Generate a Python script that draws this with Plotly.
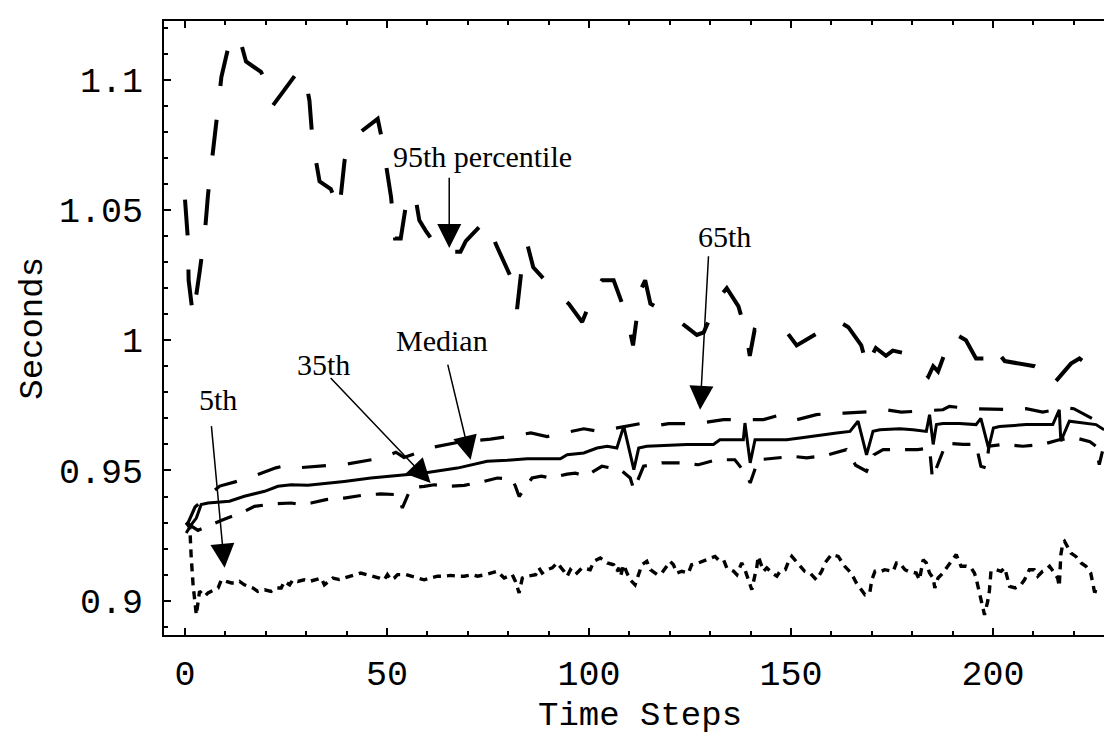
import plotly.graph_objects as go

# ---------------- data ----------------
p95_t = [0.0, 0.7, 0.9, 2.0, 3.6, 4.9, 5.7, 6.9, 8.0, 9.0, 11.4, 13.5, 15.1, 18.8, 20.4, 21.7,
         27.9, 29.5, 30.8, 31.6, 33.3, 36.1, 38.2, 39.5, 40.7, 43.5, 47.7, 48.9, 51.0, 52.0,
         53.4, 54.7, 56.8, 58.0, 59.6, 63.7, 65.8, 68.2, 69.5, 73.2, 74.9, 76.9, 81.0, 82.2,
         83.5, 84.7, 86.2, 92.1, 95.0, 98.3, 101.2, 103.2, 106.1, 109.4, 110.9, 112.7, 113.9,
         115.2, 120.9, 124.2, 126.7, 128.4, 132.0, 134.1, 137.0, 139.0, 139.8, 141.0, 146.5,
         149.0, 151.4, 158.0, 160.9, 164.2, 167.4, 169.0, 170.0, 171.0, 173.5, 175.2, 178.1,
         184.0, 185.2, 186.4, 190.0, 193.3, 195.8, 199.1, 199.9, 202.9, 210.3, 212.8, 214.8,
         215.4, 219.3, 221.4, 223.9, 225.1]
p95_v = [1.054, 1.039, 1.023, 1.009, 1.026, 1.041, 1.056, 1.071, 1.087, 1.101, 1.117, 1.116,
         1.107, 1.103, 1.098, 1.090, 1.103, 1.103, 1.092, 1.076, 1.061, 1.058, 1.050, 1.069,
         1.076, 1.080, 1.085, 1.076, 1.055, 1.039, 1.039, 1.052, 1.057, 1.046, 1.042, 1.033,
         1.034, 1.034, 1.038, 1.044, 1.046, 1.037, 1.023, 1.012, 1.030, 1.037, 1.028, 1.018,
         1.014, 1.007, 1.018, 1.023, 1.023, 1.009, 0.998, 1.019, 1.023, 1.014, 1.009, 1.005,
         1.002, 1.003, 1.016, 1.020, 1.013, 1.002, 0.994, 1.004, 1.002, 1.003, 0.998, 1.004,
         1.008, 1.005, 0.998, 0.989, 0.994, 0.997, 0.994, 0.996, 0.995, 0.986, 0.990, 0.988,
         1.003, 1.000, 0.993, 0.993, 0.998, 0.992, 0.990, 0.988, 0.989, 0.984, 0.991, 0.993,
         0.990, 0.991]

p65_t = [0.5, 2.5, 8.6, 15.6, 22.5, 25.2, 27.9, 34.9, 40.3, 49.3, 52.2, 54.2, 61.6, 68.2, 75.6,
         82.7, 85.6, 89.6, 95.4, 98.7, 102.4, 112.7, 116.0, 119.7, 126.7, 130.0, 133.3, 143.2,
         146.5, 150.2, 156.3, 159.6, 163.2, 170.7, 173.6, 177.3, 187.6, 189.2, 194.4, 205.7,
         208.2, 212.3, 216.0, 218.0, 220.0, 224.5, 227.5]
p65_v = [0.929, 0.936, 0.944, 0.947, 0.951, 0.952, 0.951, 0.952, 0.9525, 0.955, 0.957, 0.955,
         0.959, 0.961, 0.962, 0.9637, 0.9644, 0.963, 0.965, 0.966, 0.965, 0.968, 0.967, 0.968,
         0.968, 0.9688, 0.9695, 0.9695, 0.971, 0.969, 0.9714, 0.972, 0.972, 0.9727, 0.9733,
         0.9724, 0.9733, 0.9746, 0.9737, 0.9733, 0.9737, 0.9724, 0.9733, 0.974, 0.9737, 0.970,
         0.9665]

med_t = [0.3, 1.56, 2.8, 4.0, 5.7, 9.0, 11.0, 14.7, 19.7, 23.0, 26.3, 30.4, 36.1, 39.4, 46.0,
         52.6, 59.2, 67.4, 71.5, 74.8, 79.8, 84.7, 92.9, 94.6, 98.7, 102.0, 104.5, 106.9, 108.6,
         111.1, 112.3, 114.3, 124.2, 130.8, 132.4, 138.2, 138.6, 139.9, 141.1, 148.9, 152.2,
         157.2, 161.3, 164.6, 166.6, 168.7, 170.3, 172.0, 176.9, 180.2, 183.5, 184.3, 185.2,
         186.0, 187.6, 191.7, 195.8, 197.0, 198.9, 200.1, 201.6, 208.2, 214.8, 216.4, 216.8,
         218.9, 223.0, 225.5, 227.5]
med_v = [0.926, 0.9292, 0.9317, 0.9369, 0.9375, 0.9379, 0.9382, 0.9401, 0.942, 0.9439, 0.9445,
         0.9443, 0.9452, 0.9458, 0.9471, 0.948, 0.949, 0.9509, 0.9525, 0.9535, 0.9539, 0.9545,
         0.9545, 0.956, 0.9567, 0.9586, 0.9593, 0.9586, 0.967, 0.9503, 0.9586, 0.9593, 0.960,
         0.960, 0.9618, 0.9618, 0.9682, 0.9529, 0.9618, 0.9618, 0.9625, 0.9637, 0.9644, 0.965,
         0.9689, 0.956, 0.965, 0.9656, 0.966, 0.9656, 0.965, 0.9714, 0.960, 0.9676, 0.968,
         0.968, 0.9676, 0.970, 0.9586, 0.9663, 0.9669, 0.9676, 0.9676, 0.9733, 0.9612, 0.9689,
         0.9682, 0.9676, 0.9656]

p35_t = [0.3, 3.2, 9.4, 13.9, 17.2, 21.3, 26.3, 28.7, 31.2, 34.9, 39.4, 44.0, 48.5, 52.6, 53.8,
         55.9, 59.2, 61.7, 65.0, 69.1, 74.0, 77.3, 81.0, 81.8, 82.7, 85.9, 88.2, 90.5, 94.6,
         96.6, 99.1, 103.2, 105.3, 107.8, 110.2, 111.1, 113.5, 118.0, 122.5, 127.1, 131.6,
         136.1, 139.0, 139.9, 141.9, 146.9, 150.6, 153.9, 159.2, 163.7, 166.0, 168.7, 170.5,
         172.8, 177.3, 181.4, 184.3, 185.0, 188.4, 192.6, 195.8, 197.0, 198.3, 199.0, 202.4,
         207.4, 212.3, 216.4, 220.5, 224.0, 225.5, 226.3, 227.5]
p35_v = [0.930, 0.927, 0.9311, 0.9337, 0.9362, 0.9371, 0.9375, 0.9369, 0.9375, 0.9388, 0.9394,
         0.9405, 0.941, 0.9407, 0.9356, 0.9433, 0.9439, 0.9445, 0.9439, 0.9443, 0.9458, 0.9471,
         0.9466, 0.9439, 0.940, 0.9471, 0.9478, 0.9471, 0.9486, 0.949, 0.9478, 0.9516, 0.951,
         0.9503, 0.9471, 0.9426, 0.9516, 0.9529, 0.9529, 0.9522, 0.9541, 0.9541, 0.9484, 0.9452,
         0.9541, 0.9548, 0.9554, 0.9548, 0.956, 0.958, 0.952, 0.9497, 0.956, 0.958, 0.958,
         0.958, 0.9586, 0.947, 0.9605, 0.960, 0.960, 0.9516, 0.951, 0.9593, 0.960, 0.9593,
         0.960, 0.9618, 0.9625, 0.961, 0.9593, 0.9522, 0.960]

p05_t = [0.3, 1.2, 1.5, 2.0, 2.8, 3.6, 4.9, 5.7, 8.2, 9.0, 10.2, 11.5, 12.7, 13.5, 14.7, 16.8,
         18.0, 19.7, 21.3, 22.6, 23.8, 24.6, 25.9, 26.7, 27.9, 29.5, 30.8, 32.1, 33.7, 34.5,
         36.6, 38.2, 39.4, 41.9, 43.5, 48.1, 49.3, 50.1, 51.0, 51.8, 52.6, 54.7, 55.9, 57.5,
         59.2, 60.8, 62.5, 64.1, 65.8, 67.4, 69.1, 71.1, 72.4, 74.4, 75.7, 77.3, 79.0, 81.0,
         81.8, 82.7, 83.5, 84.7, 86.8, 87.6, 88.4, 89.6, 90.9, 92.1, 93.8, 94.6, 95.4, 96.6,
         98.3, 100.3, 101.2, 102.8, 104.5, 106.1, 106.9, 107.4, 107.8, 108.6, 109.4, 110.2,
         111.4, 112.3, 113.1, 114.3, 115.2, 116.9, 118.0, 120.1, 120.9, 121.7, 123.0, 124.6,
         125.4, 127.1, 129.2, 131.2, 132.0, 133.3, 134.1, 135.8, 136.6, 137.8, 138.6, 139.4,
         140.3, 141.1, 141.5, 141.9, 142.3, 143.2, 144.0, 145.3, 146.5, 147.3, 148.6, 149.4,
         150.2, 152.2, 153.4, 154.7, 156.3, 157.6, 158.4, 160.0, 161.7, 163.3, 164.9, 166.2,
         167.0, 168.3, 169.5, 170.0, 170.8, 172.4, 173.2, 175.3, 176.1, 176.9, 178.2, 179.0,
         181.0, 181.8, 182.7, 183.5, 184.3, 185.2, 185.6, 186.4, 187.6, 188.8, 190.1, 190.9,
         192.1, 193.4, 194.6, 195.4, 195.8, 196.3, 196.7, 197.5, 197.9, 198.7, 199.1, 199.5,
         200.8, 202.0, 202.9, 204.1, 205.5, 206.9, 207.8, 209.0, 210.2, 211.1, 212.3, 213.1,
         214.0, 215.2, 216.0, 216.4, 216.6, 216.8, 217.3, 217.7, 219.3, 220.5, 221.8, 223.0,
         224.2, 224.6, 225.1, 226.7]
p05_v = [0.930, 0.928, 0.9177, 0.906, 0.8946, 0.9036, 0.9017, 0.903, 0.9049, 0.908, 0.9074,
         0.9068, 0.9068, 0.9074, 0.9061, 0.9049, 0.9036, 0.9042, 0.9036, 0.9049, 0.9049, 0.9074,
         0.9061, 0.908, 0.9074, 0.908, 0.9074, 0.908, 0.9087, 0.9061, 0.9087, 0.9081, 0.9087,
         0.910, 0.9106, 0.9087, 0.908, 0.910, 0.908, 0.9087, 0.910, 0.910, 0.9094, 0.9087,
         0.908, 0.9087, 0.9094, 0.9094, 0.9097, 0.9094, 0.9094, 0.910, 0.9094, 0.910, 0.9106,
         0.9113, 0.9087, 0.910, 0.9074, 0.903, 0.9087, 0.9094, 0.910, 0.9126, 0.9106, 0.9119,
         0.9126, 0.9145, 0.9113, 0.9094, 0.9119, 0.910, 0.9126, 0.9119, 0.9151, 0.9164, 0.9145,
         0.9138, 0.9113, 0.9126, 0.9094, 0.9138, 0.9106, 0.908, 0.9061, 0.910, 0.9138, 0.9151,
         0.9119, 0.910, 0.9106, 0.9151, 0.9138, 0.9106, 0.9113, 0.9106, 0.9138, 0.9145, 0.9157,
         0.917, 0.9157, 0.9157, 0.9126, 0.9113, 0.910, 0.9145, 0.9119, 0.908, 0.9042, 0.910,
         0.9126, 0.917, 0.9151, 0.9113, 0.9126, 0.9106, 0.9094, 0.9113, 0.9119, 0.9151, 0.917,
         0.9132, 0.9113, 0.9106, 0.908, 0.9113, 0.9145, 0.9177, 0.917, 0.9132, 0.9106, 0.9068,
         0.9049, 0.9023, 0.903, 0.908, 0.9113, 0.9113, 0.9119, 0.9113, 0.9145, 0.9145, 0.9119,
         0.9113, 0.9106, 0.908, 0.9157, 0.9145, 0.9106, 0.9087, 0.9049, 0.9087, 0.9106, 0.9132,
         0.9164, 0.9177, 0.9132, 0.9132, 0.9126, 0.9106, 0.9087, 0.9055, 0.9023, 0.8985, 0.8946,
         0.8998, 0.9036, 0.9113, 0.9119, 0.9113, 0.9126, 0.9055, 0.9049, 0.9061, 0.908, 0.9119,
         0.9119, 0.9094, 0.9113, 0.9119, 0.9132, 0.9106, 0.9087, 0.9055, 0.9151, 0.9177, 0.9222,
         0.9228, 0.9183, 0.917, 0.9145, 0.9132, 0.9106, 0.9074, 0.9036, 0.903]

x_tickvals = [0, 50, 100, 150, 200]
x_ticktext = ["0", "50", "100", "150", "200"]
y_tickvals = [0.9, 0.95, 1.0, 1.05, 1.1]
y_ticktext = ["0.9", "0.95", "1", "1.05", "1.1"]
x_title = "Time Steps"
y_title = "Seconds"

# annotation labels: (text, text_x, text_y, arrow_tail_x, arrow_tail_y, tip_x, tip_y)
labels = [
    ("95th percentile", 73.6, 1.0706, 65.4, 1.0629, 65.4, 1.0354),
    ("65th", 133.5, 1.040, 129.6, 1.0328, 127.5, 0.9733),
    ("Median", 63.5, 1.000, 64.95, 0.9912, 70.7, 0.9541),
    ("35th", 34.3, 0.9906, 35.7, 0.9861, 60.8, 0.9452),
    ("5th", 8.15, 0.9774, 6.5, 0.9676, 9.8, 0.9126),
]

# ---------------- figure ----------------
fig = go.Figure()
series = [
    ("95th percentile", p95_t, p95_v, "36px,34px", 4.0),
    ("65th", p65_t, p65_v, "24px,22px", 3.2),
    ("Median", med_t, med_v, "solid", 3.0),
    ("35th", p35_t, p35_v, "18px,15px", 3.2),
    ("5th", p05_t, p05_v, "8px,6px", 3.4),
]
for name, t, v, dash, w in series:
    fig.add_trace(go.Scatter(x=t, y=v, mode="lines", name=name,
                             line=dict(color="black", width=w, dash=dash),
                             showlegend=False))

serif = "Liberation Serif, Times New Roman, serif"
mono = "Liberation Mono, Courier New, monospace"
for text, tx, ty, ax, ay, px, py in labels:
    fig.add_annotation(x=px, y=py, ax=ax, ay=ay, xref="x", yref="y", axref="x", ayref="y",
                       text="", showarrow=True, arrowhead=2, arrowsize=3.2, arrowwidth=1.5,
                       arrowcolor="black", standoff=0)
    fig.add_annotation(x=tx, y=ty, xref="x", yref="y", text=text, showarrow=False,
                       font=dict(family=serif, size=30, color="black"))

# axis titles placed in paper coordinates so they stay inside the page
fig.add_annotation(x=0.5, y=-0.132, xref="paper", yref="paper", text=x_title,
                   showarrow=False, xanchor="center", yanchor="middle",
                   font=dict(family=mono, size=34, color="black"))
fig.add_annotation(x=-0.138, y=0.5, xref="paper", yref="paper", text=y_title,
                   showarrow=False, xanchor="center", yanchor="middle", textangle=-90,
                   font=dict(family=mono, size=34, color="black"))

fig.update_xaxes(range=[-5.2, 230.2], tickvals=x_tickvals, ticktext=x_ticktext,
                 ticks="inside", ticklen=7, tickwidth=1.5, tickcolor="black",
                 minor=dict(dtick=10, tick0=0, ticks="inside", ticklen=4, tickcolor="black"),
                 showline=True, linecolor="black", linewidth=2, mirror="ticks",
                 showgrid=False, zeroline=False, ticklabelstandoff=6,
                 tickfont=dict(family=mono, size=35, color="black"))
fig.update_yaxes(range=[0.88683, 1.12254], tickvals=y_tickvals, ticktext=y_ticktext,
                 ticks="inside", ticklen=7, tickwidth=1.5, tickcolor="black",
                 minor=dict(dtick=0.01, tick0=0.9, ticks="inside", ticklen=4, tickcolor="black"),
                 showline=True, linecolor="black", linewidth=2, mirror="ticks",
                 showgrid=False, zeroline=False, ticklabelstandoff=12,
                 tickfont=dict(family=mono, size=35, color="black"))
fig.update_layout(width=1112, height=739, margin=dict(l=156, r=3, t=13, b=112),
                  paper_bgcolor="white", plot_bgcolor="white")
fig.write_html("out.html")
